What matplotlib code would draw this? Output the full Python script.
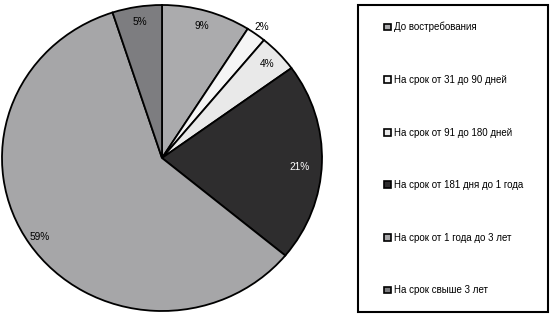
import numpy as np
import matplotlib
matplotlib.use('Agg')
import matplotlib.pyplot as plt
from matplotlib.patches import Rectangle

plt.rcParams['font.family'] = ['Liberation Sans Narrow', 'Liberation Sans', 'DejaVu Sans']

# данные
labels = ['До востребования', 'На срок от 31 до 90 дней', 'На срок от 91 до 180 дней',
          'На срок от 181 дня до 1 года', 'На срок от 1 года до 3 лет', 'На срок свыше 3 лет']
shares = [9, 2, 4, 21, 59, 5]
colors = ['#ababad', '#f5f5f5', '#e9e9e9', '#2e2d2e', '#a6a6a8', '#7d7d80']
text_colors = ['black', 'black', 'black', 'white', 'black', 'black']

fig = plt.figure(figsize=(5.53, 3.17), dpi=100)
ax = fig.add_axes([2 / 553, 6 / 317, 320 / 553, 306 / 317])

wedges, texts, autotexts = ax.pie(
    shares, colors=colors, startangle=90, counterclock=False,
    autopct='%1.0f%%', pctdistance=0.9,
    wedgeprops={'edgecolor': 'black', 'linewidth': 1.3},
    textprops={'fontsize': 7.3})
ax.set_aspect('auto')
ax.set_xlim(-1, 1)
ax.set_ylim(-1, 1)

for t, c in zip(autotexts, text_colors):
    t.set_color(c)

# подписи, которые сдвинуты относительно середины сектора
def move_label(t, angle, r):
    a = np.deg2rad(angle)
    t.set_position((r * np.cos(a), r * np.sin(a)))

move_label(autotexts[1], 54, 1.06)
move_label(autotexts[3], -4, 0.86)
move_label(autotexts[4], 214, 0.92)

# легенда в рамке
fig.add_artist(Rectangle((358 / 553, 5 / 317), 190 / 553, 307 / 317,
                         transform=fig.transFigure, fill=False,
                         edgecolor='black', linewidth=1.5))
leg = fig.legend(wedges, labels, loc='upper left',
                 bbox_to_anchor=(384 / 553, 1 - 22 / 317),
                 frameon=False, fontsize=7, handlelength=0.7, handleheight=0.7,
                 handletextpad=0.3, labelspacing=4.38, borderpad=0, borderaxespad=0)
for h in leg.legend_handles:
    h.set_linewidth(1.2)

fig.savefig('out.png', dpi=100)
